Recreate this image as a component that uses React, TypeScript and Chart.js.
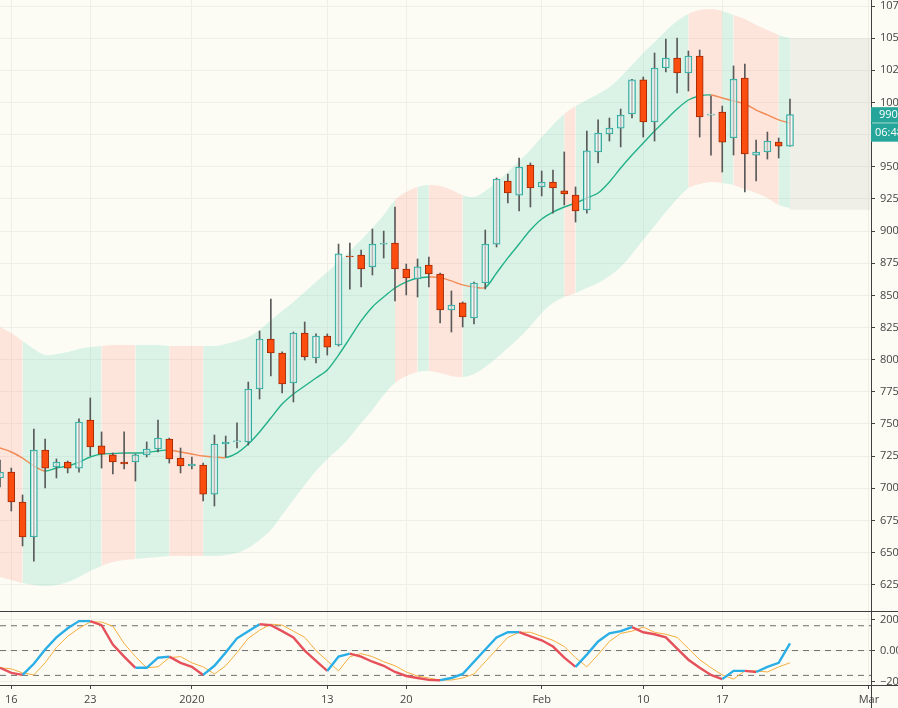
import React, { useEffect, useRef } from 'react';
import { Chart, registerables } from 'chart.js';

Chart.register(...registerables);

// ---- Data (daily candles, index 0 = Dec 15 2019) ----
const opens = [7080, 7126, 6893, 6621, 7297, 7165, 7204, 7157, 7531, 7329, 7259, 7204, 7204, 7259, 7305, 7383, 7235, 7173, 7181, 6955, 7344, 7360, 7360, 7772, 8161, 8052, 7819, 8207, 8013, 8184, 8114, 8806, 8814, 8721, 8899, 8907, 8705, 8627, 8736, 8666, 8386, 8441, 8324, 8596, 8899, 9389, 9280, 9514, 9343, 9381, 9312, 9280, 9164, 9615, 9755, 9801, 9910, 10175, 9848, 10268, 10346, 10229, 10361, 9902, 9926, 9724, 10190, 9591, 9615, 9692, 9661];
const highs = [7220, 7157, 6948, 7461, 7383, 7228, 7212, 7539, 7702, 7438, 7274, 7438, 7266, 7360, 7531, 7390, 7313, 7243, 7196, 7414, 7406, 7508, 7826, 8223, 8472, 8060, 8215, 8293, 8200, 8200, 8899, 8907, 8853, 9016, 9000, 9187, 8744, 8783, 8798, 8674, 8534, 8449, 8604, 9008, 9413, 9444, 9568, 9529, 9467, 9475, 9615, 9343, 9778, 9864, 9879, 9949, 10180, 10198, 10385, 10493, 10501, 10400, 10408, 10050, 9972, 10284, 10299, 9708, 9770, 9724, 10027];
const lows = [7010, 6823, 6551, 6434, 7002, 7080, 7119, 7126, 7251, 7157, 7111, 7150, 7056, 7243, 7282, 7196, 7119, 7150, 6901, 6862, 7243, 7313, 7336, 7694, 7873, 7741, 7671, 7997, 7974, 8036, 8106, 8549, 8565, 8658, 8790, 8456, 8503, 8487, 8565, 8285, 8215, 8254, 8277, 8549, 8876, 9218, 9156, 9187, 9273, 9140, 9203, 9070, 9140, 9529, 9700, 9654, 9879, 9731, 9700, 10237, 10074, 10089, 9731, 9591, 9459, 9591, 9304, 9389, 9560, 9568, 9661];
const closes = [7126, 6893, 6621, 7297, 7157, 7204, 7157, 7515, 7321, 7266, 7204, 7189, 7259, 7305, 7391, 7228, 7173, 7189, 6955, 7344, 7360, 7368, 7772, 8161, 8052, 7811, 8207, 8021, 8184, 8098, 8822, 8798, 8705, 8899, 8907, 8705, 8635, 8721, 8666, 8386, 8425, 8332, 8596, 8899, 9405, 9296, 9498, 9335, 9381, 9335, 9288, 9156, 9623, 9762, 9801, 9902, 10175, 9848, 10268, 10346, 10229, 10361, 9887, 9910, 9692, 10182, 9599, 9615, 9700, 9661, 9905];

// Trend-band envelope and its moving average
const bandUpper = [8254, 8207, 8145, 8083, 8036, 8044, 8060, 8083, 8098, 8106, 8114, 8114, 8114, 8114, 8114, 8106, 8106, 8106, 8106, 8106, 8122, 8145, 8176, 8231, 8308, 8378, 8448, 8526, 8604, 8682, 8759, 8845, 8931, 9024, 9125, 9242, 9304, 9343, 9358, 9350, 9319, 9280, 9265, 9312, 9382, 9459, 9545, 9630, 9731, 9825, 9910, 9972, 10019, 10066, 10120, 10198, 10291, 10385, 10470, 10556, 10633, 10688, 10719, 10727, 10711, 10680, 10649, 10602, 10563, 10525, 10501];
const bandLower = [6310, 6287, 6263, 6248, 6240, 6248, 6271, 6310, 6357, 6396, 6427, 6442, 6450, 6458, 6466, 6473, 6473, 6473, 6473, 6473, 6481, 6497, 6536, 6598, 6675, 6792, 6909, 7025, 7134, 7228, 7305, 7399, 7508, 7609, 7725, 7819, 7873, 7904, 7912, 7896, 7873, 7865, 7889, 7943, 8013, 8091, 8168, 8262, 8363, 8441, 8487, 8518, 8557, 8596, 8651, 8721, 8822, 8931, 9039, 9148, 9249, 9335, 9366, 9382, 9374, 9358, 9327, 9296, 9257, 9203, 9179];
const bandTrend = [-1, -1, 1, 1, 1, 1, 1, 1, 1, -1, -1, -1, 1, 1, 1, -1, -1, -1, 1, 1, 1, 1, 1, 1, 1, 1, 1, 1, 1, 1, 1, 1, 1, 1, 1, -1, -1, 1, -1, -1, -1, 1, 1, 1, 1, 1, 1, 1, 1, 1, -1, 1, 1, 1, 1, 1, 1, 1, 1, 1, 1, -1, -1, -1, 1, -1, -1, -1, -1, 1, 1];
const ema = [7313, 7282, 7235, 7173, 7134, 7158, 7173, 7204, 7243, 7266, 7270, 7274, 7274, 7278, 7290, 7298, 7282, 7266, 7251, 7243, 7239, 7274, 7344, 7438, 7546, 7655, 7733, 7795, 7857, 7920, 8036, 8168, 8301, 8410, 8487, 8557, 8604, 8635, 8643, 8639, 8612, 8581, 8565, 8561, 8674, 8791, 8899, 9008, 9094, 9148, 9187, 9218, 9257, 9296, 9382, 9490, 9591, 9685, 9778, 9864, 9949, 10019, 10050, 10058, 10035, 10011, 9988, 9941, 9903, 9864, 9840];

// Oscillator pane
const oscMain = [-111, -144, -157, -85, 7, 85, 144, 190, 190, 164, 39, -39, -111, -111, -46, -39, -79, -105, -157, -98, -13, 79, 125, 170, 164, 125, 85, 0, -66, -131, -39, -20, -39, -72, -98, -138, -164, -177, -189, -191, -177, -151, -72, 7, 85, 118, 119, 92, 66, 26, -46, -105, -26, 59, 111, 125, 151, 118, 105, 85, 13, -59, -111, -157, -184, -131, -131, -138, -105, -79, 46];
const oscSignal = [-111, -118, -144, -157, -79, 20, 92, 144, 184, 184, 157, 46, -39, -111, -105, -46, -39, -79, -105, -151, -98, -13, 79, 131, 170, 164, 125, 85, 0, -66, -131, -39, -20, -39, -72, -98, -138, -164, -177, -190, -190, -177, -151, -72, 7, 85, 118, 118, 92, 66, 26, -46, -105, -26, 59, 111, 125, 151, 118, 105, 85, 13, -59, -111, -157, -184, -131, -131, -138, -105, -79];
const oscLevels = [160, 0, -160];

// Axis ticks
const xTickDays = [1, 8, 17, 29, 36, 48, 57, 64, 77];
const xTickLabels = ['16', '23', '2020', '13', '20', 'Feb', '10', '17', 'Mar'];
const priceTicks = [6250, 6500, 6750, 7000, 7250, 7500, 7750, 8000, 8250, 8500, 8750, 9000, 9250, 9500, 9750, 10000, 10250, 10500, 10750];
const oscTicks = [-200, 0, 200];
const oscTickLabels = ['\u2212200.00', '0.00', '200.00'];

// Projection box and last price labels
const boxRange = [9165, 10500];
const boxDays = [70, 77.3];
const lastPriceText = '9905.00';
const countdownText = '06:48:21';

const BG = '#fcfcf5';
const MINT = 'rgba(92,212,176,0.2)';
const SALMON = 'rgba(255,160,142,0.25)';
const GRID = '#efefe8';
const TEAL = '#26a69a';

export default function App() {
  const ref = useRef<HTMLCanvasElement | null>(null);

  useEffect(() => {
    document.body.style.margin = '0';
    document.body.style.background = BG;
    Chart.defaults.font.family = '"Open Sans", "Noto Sans", sans-serif';
    const canvas = ref.current;
    if (!canvas) return;

    const xy = (arr: number[]) => arr.map((v, i) => ({ x: i, y: v }));
    const days = opens.map((_, i) => i);
    const bull = (i: number) => closes[i] >= opens[i];

    const overlay = {
      id: 'overlay',
      afterDraw(chart: any) {
        const { ctx, width, height } = chart;
        const ys = chart.scales.y;
        const y2 = chart.scales.y2;
        const xs = chart.scales.x;
        const right = chart.chartArea.right;
        ctx.save();
        ctx.strokeStyle = '#3f3f3f';
        ctx.lineWidth = 1;
        ctx.beginPath();
        ctx.moveTo(0, Math.round(y2.top) + 0.5);
        ctx.lineTo(width, Math.round(y2.top) + 0.5);
        ctx.moveTo(0, Math.round(xs.top) + 0.5);
        ctx.lineTo(width, Math.round(xs.top) + 0.5);
        ctx.moveTo(Math.round(right) + 0.5, xs.top);
        ctx.lineTo(Math.round(right) + 0.5, height);
        ctx.stroke();

        const py = ys.getPixelForValue(closes[closes.length - 1]);
        ctx.fillStyle = TEAL;
        ctx.fillRect(right, py - 7.5, 60, 15.5);
        ctx.fillRect(right, py + 8.6, 60, 18.4);
        ctx.fillStyle = '#ffffff';
        ctx.font = '11px "Open Sans", sans-serif';
        ctx.textBaseline = 'middle';
        ctx.textAlign = 'left';
        ctx.fillText(lastPriceText, right + 8, py + 0.5);
        ctx.fillText(countdownText, right + 4, py + 18);
        ctx.restore();
      },
    };

    const chart = new Chart(canvas, {
      type: 'line',
      data: {
        datasets: [
          {
            type: 'line',
            data: xy(bandUpper),
            yAxisID: 'y',
            borderWidth: 0,
            borderColor: 'rgba(0,0,0,0)',
            pointRadius: 0,
            tension: 0.35,
            fill: '+1',
            backgroundColor: MINT,
            segment: {
              backgroundColor: (c: any) => (bandTrend[c.p0DataIndex] > 0 ? MINT : SALMON),
            },
            order: 20,
          } as any,
          {
            type: 'line',
            data: xy(bandLower),
            yAxisID: 'y',
            borderWidth: 0,
            borderColor: 'rgba(0,0,0,0)',
            pointRadius: 0,
            tension: 0.35,
            fill: false,
            order: 21,
          },
          {
            type: 'line',
            data: boxDays.map((d) => ({ x: d, y: boxRange[1] })),
            yAxisID: 'y',
            borderWidth: 0,
            borderColor: 'rgba(0,0,0,0)',
            pointRadius: 0,
            fill: { value: boxRange[0] },
            backgroundColor: 'rgba(150,150,140,0.12)',
            order: 19,
          } as any,
          {
            type: 'line',
            data: xy(ema),
            yAxisID: 'y',
            borderWidth: 1.4,
            borderColor: '#22b088',
            pointRadius: 0,
            tension: 0.3,
            fill: false,
            segment: {
              borderColor: (c: any) => (c.p1.parsed.y < c.p0.parsed.y ? '#f28a55' : '#22b088'),
            },
            order: 6,
          } as any,
          {
            type: 'bar',
            data: days.map((i) => ({ x: i, y: [lows[i], highs[i]] })),
            yAxisID: 'y',
            backgroundColor: '#5a5a5a',
            borderWidth: 0,
            barThickness: 1,
            grouped: false,
            order: 5,
          } as any,
          {
            type: 'bar',
            data: days.map((i) => ({ x: i, y: [opens[i], closes[i]] })),
            yAxisID: 'y',
            backgroundColor: (c: any) => (bull(c.dataIndex) ? 'rgba(255,255,255,0.55)' : '#fb4d10'),
            borderColor: (c: any) => (bull(c.dataIndex) ? TEAL : '#a32800'),
            borderWidth: 1,
            borderSkipped: false,
            barThickness: 7,
            grouped: false,
            order: 4,
          } as any,
          ...oscLevels.map((lv) => ({
            type: 'line' as const,
            data: [
              { x: 0, y: lv },
              { x: 78, y: lv },
            ],
            yAxisID: 'y2',
            borderWidth: 1,
            borderColor: '#6e6e6e',
            borderDash: [6, 5],
            pointRadius: 0,
            fill: false,
            order: 3,
          })),
          {
            type: 'line',
            data: xy(oscSignal),
            yAxisID: 'y2',
            borderWidth: 1,
            borderColor: '#f5ad3c',
            pointRadius: 0,
            tension: 0,
            fill: false,
            order: 2,
          },
          {
            type: 'line',
            data: xy(oscMain),
            yAxisID: 'y2',
            borderWidth: 2.4,
            borderColor: '#2aaee6',
            pointRadius: 0,
            tension: 0,
            fill: false,
            segment: {
              borderColor: (c: any) => (c.p1.parsed.y < c.p0.parsed.y ? '#e5505a' : '#2aaee6'),
            },
            order: 1,
          } as any,
        ],
      },
      options: {
        animation: false,
        responsive: true,
        maintainAspectRatio: false,
        layout: { padding: 0 },
        plugins: { legend: { display: false }, tooltip: { enabled: false } },
        scales: {
          x: {
            type: 'linear',
            min: 0,
            max: 77.18,
            offset: false,
            afterBuildTicks: (s: any) => {
              s.ticks = xTickDays.map((v) => ({ value: v }));
            },
            afterFit: (s: any) => {
              s.height = 23;
              s.paddingLeft = 0;
              s.paddingRight = 0;
            },
            ticks: {
              autoSkip: false,
              maxRotation: 0,
              padding: 4,
              color: '#444',
              font: { size: 11 },
              callback: (_v: any, i: number) => xTickLabels[i],
            },
            grid: { color: GRID, tickColor: '#444', tickLength: 4, offset: false },
            border: { color: '#3f3f3f' },
          },
          y: {
            type: 'linear',
            position: 'right',
            stack: 'pane',
            stackWeight: 611,
            min: 6045.6,
            max: 10796.7,
            afterBuildTicks: (s: any) => {
              s.ticks = priceTicks.map((v) => ({ value: v }));
            },
            afterFit: (s: any) => {
              s.width = 27;
              s.paddingTop = 0;
              s.paddingBottom = 0;
            },
            ticks: {
              padding: 5,
              color: '#444',
              font: { size: 11 },
              callback: (v: any) => String(v),
            },
            grid: { color: GRID, tickColor: '#444', tickLength: 4 },
            border: { color: '#3f3f3f' },
          },
          y2: {
            type: 'linear',
            position: 'right',
            stack: 'pane',
            stackWeight: 74,
            min: -222,
            max: 255,
            afterBuildTicks: (s: any) => {
              s.ticks = oscTicks.map((v) => ({ value: v }));
            },
            afterFit: (s: any) => {
              s.width = 27;
              s.paddingTop = 0;
              s.paddingBottom = 0;
            },
            ticks: {
              padding: 5,
              color: '#444',
              font: { size: 11 },
              callback: (v: any) => oscTickLabels[oscTicks.indexOf(v)] ?? '',
            },
            grid: { color: GRID, tickColor: '#444', tickLength: 4 },
            border: { color: '#3f3f3f' },
          },
        },
      } as any,
      plugins: [overlay],
    });

    return () => chart.destroy();
  }, []);

  return (
    <div style={{ width: 898, height: 708, position: 'relative', background: BG }}>
      <canvas ref={ref} />
    </div>
  );
}
